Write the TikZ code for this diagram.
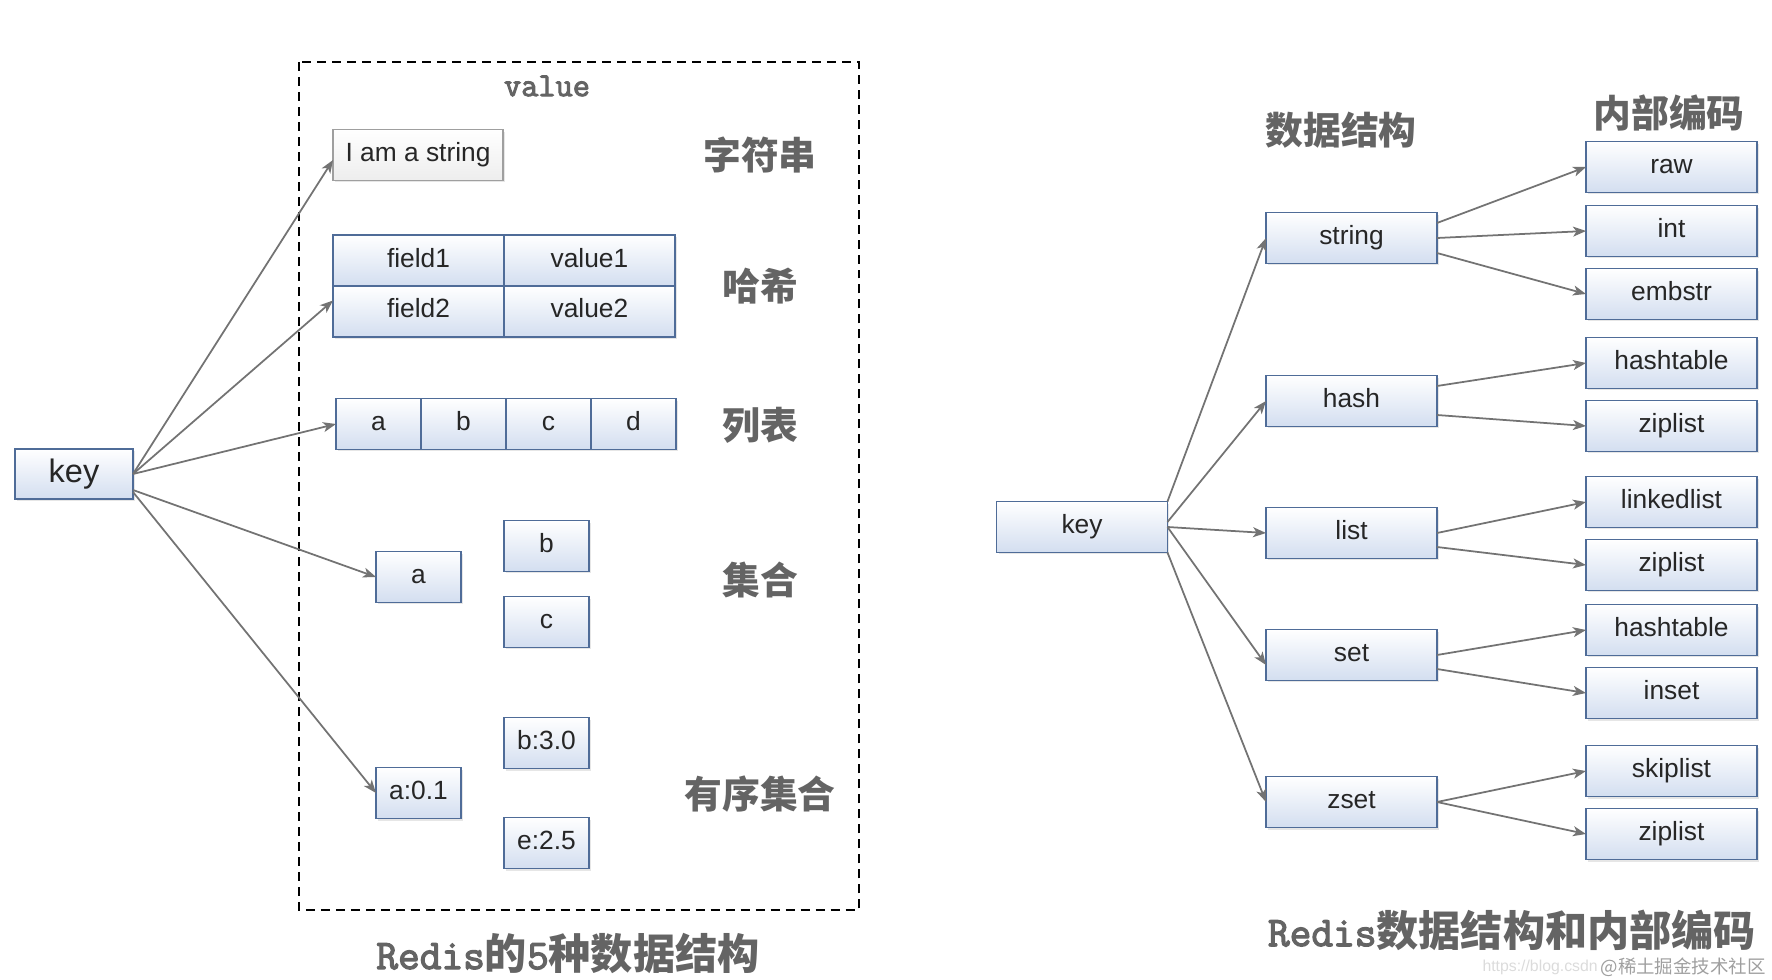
\documentclass[tikz,border=0pt]{standalone}
\usepackage{fontspec}
\setmainfont{Liberation Sans}
\newfontfamily\cjk{Noto Sans CJK SC}
\newfontfamily\serifmono[FakeBold=3]{Latin Modern Mono}
\usetikzlibrary{positioning,
	calc,
	arrows.meta,
	shadows}

\definecolor{boxline}{RGB}{79,108,152}
\definecolor{boxfill}{RGB}{211,222,240}
\definecolor{linkgray}{RGB}{115,115,115}
\definecolor{labelgray}{RGB}{100,100,100}

\tikzset{
	cell/.style={draw=boxline, line width=0.9pt, top color=white, bottom color=boxfill,
		minimum width=3.42cm, minimum height=1.02cm, inner sep=0pt, outer sep=0pt,
		text=black!85, font={\fontsize{15}{18}\selectfont}, text height=11pt, text depth=3.6pt,
		drop shadow={shadow xshift=0.04cm, shadow yshift=-0.04cm, opacity=0.2}},
	smallcell/.style={cell, minimum width=1.7cm},
	strcell/.style={cell, draw=gray!75, bottom color=gray!14},
	keycell/.style={cell, minimum width=2.36cm, minimum height=1.0cm,
		font={\fontsize{18.5}{22}\selectfont}, text height=13.5pt, text depth=3.3pt},
	typename/.style={font={\cjk\bfseries\fontsize{21.5}{25}\selectfont}, text=labelgray, inner sep=0pt},
	caption/.style={font={\serifmono\fontsize{24}{28}\selectfont}, text=labelgray, inner sep=0pt},
	link/.style={draw=linkgray, line width=1pt, -{Stealth[length=0.26cm, width=0.2cm, inset=0.07cm]}}
}

\begin{document}
\begin{tikzpicture}[x=0.02cm, y=-0.02cm]
	\useasboundingbox (0,0) rectangle (1772,980);

	% left: the five types
	\draw[line width=1.1pt, dash pattern=on 0.18cm off 0.12cm] (299,62) rectangle (859,910);
	\node[font={\serifmono\fontsize{19}{21}\selectfont}, text=labelgray] (value) at (547,86) {value};

	\node[keycell] (keyL) at (74,474) {key};

	\node[strcell, minimum width=3.4cm] (str) at (418,155) {I am a string};

	\node[cell] (f1) at (418.5,260.5) {field1};
	\node[cell, right=0pt of f1] (v1) {value1};
	\node[cell, below=0pt of f1] (f2) {field2};
	\node[cell, right=0pt of f2] (v2) {value2};

	\node[smallcell] (l1) at (378.5,424) {a};
	\node[smallcell, right=0pt of l1] (l2) {b};
	\node[smallcell, right=0pt of l2] (l3) {c};
	\node[smallcell, right=0pt of l3] (l4) {d};

	\node[smallcell] (sa) at (418.5,577) {a};
	\node[smallcell] (sb) at (546.5,546) {b};
	\node[smallcell] (sc) at (546.5,622) {c};

	\node[smallcell] (za) at (418.5,793) {a:0.1};
	\node[smallcell] (zb) at (546.5,743) {b:3.0};
	\node[smallcell] (ze) at (546.5,843) {e:2.5};

	\node[typename] (tstr) at (760,155) {字符串};
	\node[typename] (thash) at (760,286) {哈希};
	\node[typename] (tlist) at (760,425) {列表};
	\node[typename] (tset) at (760,580) {集合};
	\node[typename] (tzset) at (760,794) {有序集合};

	\draw[link] (keyL.east) -- ($(str.west)+(0,5)$);
	\draw[link] (keyL.east) -- ($(f2.west)+(0,-11)$);
	\draw[link] (keyL.east) -- (l1.west);
	\draw[link] ($(keyL.east)+(0,16)$) -- (sa.west);
	\draw[link] ($(keyL.east)+(0,18)$) -- (za.west);

	\node[caption] (capL) at (568,953) {Redis{\cjk\bfseries 的}5{\cjk\bfseries 种数据结构}};

	% right: types and encodings
	\node[cell] (keyR) at (1082,527) {key};

	\foreach \name/\y in {string/238, hash/401, list/533, set/655, zset/802}
		\node[cell] (\name) at (1351.5,\y) {\name};

	\foreach \name/\txt/\y in {raw/raw/167, int/int/231, emb/embstr/294,
		htA/hashtable/363, zlA/ziplist/426, ll/linkedlist/502, zlB/ziplist/565,
		htB/hashtable/630, ins/inset/693, sk/skiplist/771, zlC/ziplist/834}
		\node[cell] (\name) at (1671.5,\y) {\txt};

	\node[typename] (tds) at (1341,130) {数据结构};
	\node[typename] (tenc) at (1669,113) {内部编码};

	\draw[link] (keyR.north east) -- (string.west);
	\draw[link] ($(keyR.east)+(0,-5)$) -- (hash.west);
	\draw[link] (keyR.east) -- (list.west);
	\draw[link] (keyR.east) -- ($(set.west)+(0,10)$);
	\draw[link] (keyR.south east) -- (zset.west);

	\foreach \from/\dy/\to in {string/-15/raw, string/0/int, string/15/emb,
		hash/-15/htA, hash/14/zlA, list/0/ll, list/14/zlB,
		set/0/htB, set/14/ins, zset/0/sk, zset/0/zlC}
		\draw[link] ($(\from.east)+(0,\dy)$) -- (\to.west);

	\node[caption] (capR) at (1512,930) {Redis{\cjk\bfseries 数据结构和内部编码}};

	\node[anchor=east, font={\fontsize{9}{10}\selectfont}, text=gray!28, inner sep=0pt] (url) at (1598,967) {https://blog.csdn};
	\node[anchor=east, font={\cjk\fontsize{10.5}{12}\selectfont}, text=gray!75, inner sep=0pt] (mark) at (1766,967) {@稀土掘金技术社区};
\end{tikzpicture}
\end{document}
